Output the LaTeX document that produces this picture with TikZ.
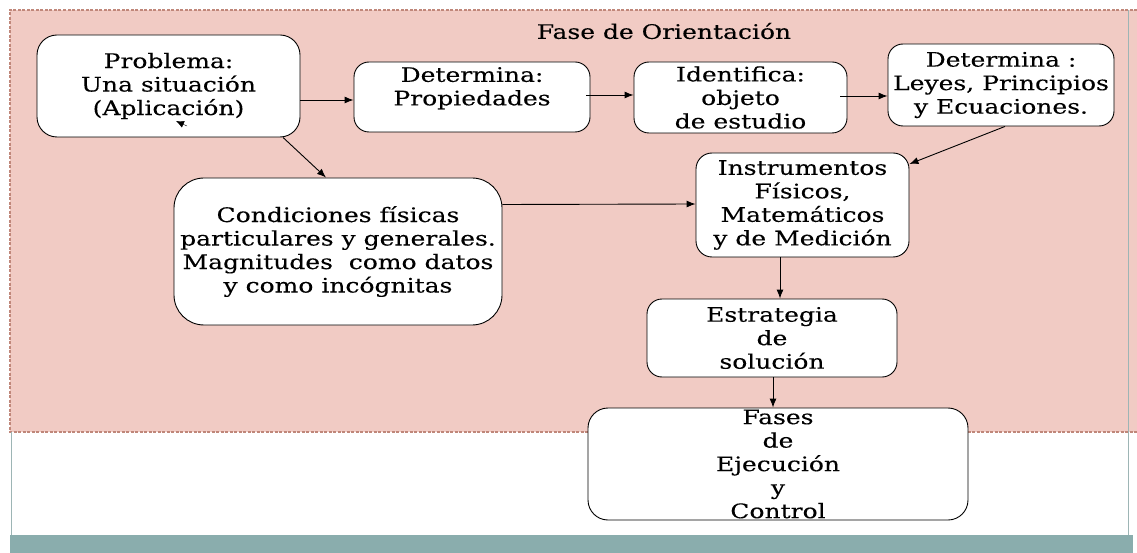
\documentclass[tikz,border=0pt]{standalone}
\usepackage{fontspec}
\setmainfont[FakeStretch=1.25,FakeBold=0.15]{DejaVu Serif}
\usetikzlibrary{arrows.meta}
\definecolor{pinkfill}{HTML}{F1CBC4}
\definecolor{pinkedge}{HTML}{C0877A}
\definecolor{tealbar}{HTML}{8AADAD}
\definecolor{sideline}{HTML}{9DB5B5}
\begin{document}
\begin{tikzpicture}[x=1pt,y=-1pt,
  box/.style={draw=black, fill=white, line width=0.9pt, align=center, inner sep=0pt,
    font=\fontsize{20}{23.5}\selectfont},
  arr/.style={-{Latex[length=9pt,width=7pt]}, line width=0.9pt},
  titletext/.style={font=\fontsize{20}{23.5}\selectfont, inner sep=0pt},
]
\useasboundingbox (0,0) rectangle (1137,553);
\fill[white] (0,0) rectangle (1137,553);
% background panel
\fill[tealbar] (10,535) rectangle (1133,553);
\fill[pinkfill] (10,10) rectangle (1137,432);
\draw[pinkedge, line width=1.2pt, dash pattern=on 3pt off 1.5pt] (1137,10) -- (10,10) -- (10,432) -- (1137,432);
\draw[sideline, line width=1pt] (11,432) -- (11,535);
\draw[sideline, line width=1pt] (1128,10) -- (1128,535);

\node[titletext] (title) at (664,31) {Fase de Orientación};

\node[box, rounded corners=20pt, minimum width=263pt, minimum height=102pt] (prob) at (168.5,86)
  {Problema:\\Una situación\\(Aplicación)};
\node[box, rounded corners=15pt, minimum width=236pt, minimum height=70pt] (prop) at (472,97)
  {Determina:\\Propiedades\\[-9pt]\strut};
\node[box, rounded corners=15pt, minimum width=213pt, minimum height=71pt] (iden) at (740.5,97.5)
  {Identifica:\\objeto\\de estudio};
\node[box, rounded corners=15pt, minimum width=226pt, minimum height=82pt] (leyes) at (1001,85)
  {Determina :\\Leyes, Principios\\y Ecuaciones.};
\node[box, rounded corners=30pt, minimum width=328pt, minimum height=147pt] (cond) at (338,251.5)
  {Condiciones físicas\\particulares y generales.\\Magnitudes\ \ como datos\\y como incógnitas};
\node[box, rounded corners=16pt, minimum width=213pt, minimum height=104pt] (inst) at (802.5,205)
  {Instrumentos\\Físicos,\\Matemáticos\\y de Medición};
\node[box, rounded corners=15pt, minimum width=250pt, minimum height=78pt] (estr) at (772,338)
  {Estrategia\\de\\solución};
\node[box, rounded corners=20pt, minimum width=380pt, minimum height=112pt] (fases) at (778,464)
  {Fases\\de\\Ejecución\\y\\Control};

% connectors
\draw[arr] ([yshift=-14pt]prob.east) -- ([yshift=-3pt]prop.west);
\draw[arr] ([xshift=-4pt,yshift=2pt]prop.east) -- ([yshift=2.5pt]iden.west);
\draw[arr] ([xshift=-7pt,yshift=1.5pt]iden.east) -- ([yshift=-11pt]leyes.west);
\draw[arr] ([xshift=114.5pt]prob.south) -- ([xshift=-12pt]cond.north);
\draw[arr] ([xshift=4pt]leyes.south) -- ([yshift=41pt]inst.east);
\draw[arr] ([yshift=47pt]cond.east) -- ([yshift=1pt]inst.west);
\draw[arr] ([xshift=-22.5pt]inst.south) -- ([xshift=8pt]estr.north);
\draw[arr] ([xshift=1pt]estr.south) -- ([xshift=-5pt]fases.north);

% stray arrowhead inside the first box
\coordinate (sA) at (187,126);
\coordinate (sB) at (176,121);
\draw[-{Latex[length=8pt,width=7pt]}, line width=0.4pt] (sA) -- (sB);
\end{tikzpicture}
\end{document}
